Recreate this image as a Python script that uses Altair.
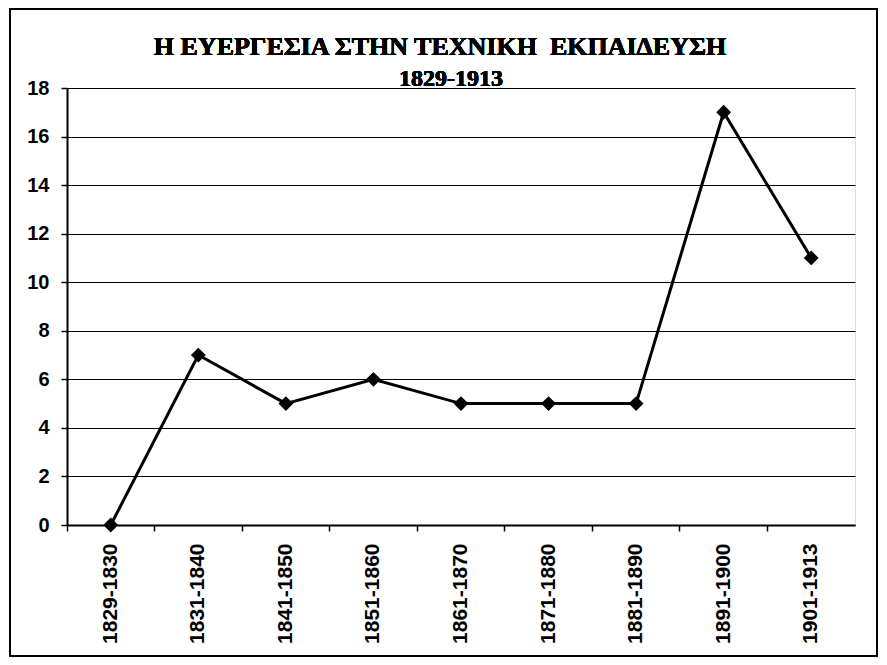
import altair as alt
import pandas as pd

periods = ["1829-1830", "1831-1840", "1841-1850", "1851-1860", "1861-1870",
           "1871-1880", "1881-1890", "1891-1900", "1901-1913"]
counts = [0, 7, 5, 6, 5, 5, 5, 17, 11]
y_ticks = [0, 2, 4, 6, 8, 10, 12, 14, 16, 18]
title_text = "Η ΕΥΕΡΓΕΣΙΑ ΣΤΗΝ ΤΕΧΝΙΚΗ\u00a0 ΕΚΠΑΙΔΕΥΣΗ"
subtitle_text = "1829-1913"

df = pd.DataFrame({"period": periods, "count": counts})

W, H = 788, 437

x_enc = alt.X(
    "period:N",
    sort=periods,
    bandPosition=0.5,
    scale=alt.Scale(type="band", paddingInner=0, paddingOuter=0),
    axis=alt.Axis(
        title=None, labelAngle=-90, bandPosition=0,
        labelFont="Liberation Sans", labelFontSize=21, labelFontWeight="bold",
        labelColor="black", labelPadding=12, tickSize=6, tickColor="black",
        tickWidth=1.5, domainColor="black", domainWidth=2, grid=False,
    ),
)
y_enc = alt.Y(
    "count:Q",
    scale=alt.Scale(domain=[0, 18], nice=False),
    axis=alt.Axis(
        title=None, values=y_ticks, labelFont="Liberation Sans", labelFontSize=20,
        labelFontWeight="bold", labelColor="black", labelPadding=12, tickSize=6,
        tickColor="black", tickWidth=1.5, domainColor="black", domainWidth=2,
        grid=True, gridColor="black", gridWidth=1.2, gridOpacity=1,
    ),
)

base = alt.Chart(df)
line = base.mark_line(color="black", strokeWidth=3).encode(x=x_enc, y=y_enc)
pts = base.mark_point(shape="diamond", filled=True, color="black", size=220, opacity=1).encode(
    x=alt.X("period:N", sort=periods, bandPosition=0.5), y="count:Q"
)
border = alt.Chart(df).mark_rect(fill=None, stroke="black", strokeWidth=2, clip=False).encode(
    x=alt.value(-57), x2=alt.value(810), y=alt.value(-79), y2=alt.value(568)
)
title = alt.Chart(df).mark_text(
    font="Liberation Serif", fontSize=26, fontWeight="bold", color="black",
    align="center", baseline="alphabetic", clip=False,
).encode(x=alt.value(373), y=alt.value(-33), text=alt.value(title_text))
subtitle = alt.Chart(df).mark_text(
    font="Liberation Serif", fontSize=24, fontWeight="bold", color="black",
    align="center", baseline="alphabetic", clip=False,
).encode(x=alt.value(384), y=alt.value(-2), text=alt.value(subtitle_text))

chart = alt.layer(border, line, pts, title, subtitle).properties(
    width=W, height=H,
    autosize=alt.AutoSizeParams(type="none"),
    padding={"left": 59, "top": 80, "right": 24, "bottom": 132},
).configure_view(stroke="black", strokeWidth=2).configure(background="white")

chart.save("out.html", embed_options={"renderer": "svg", "actions": False})
